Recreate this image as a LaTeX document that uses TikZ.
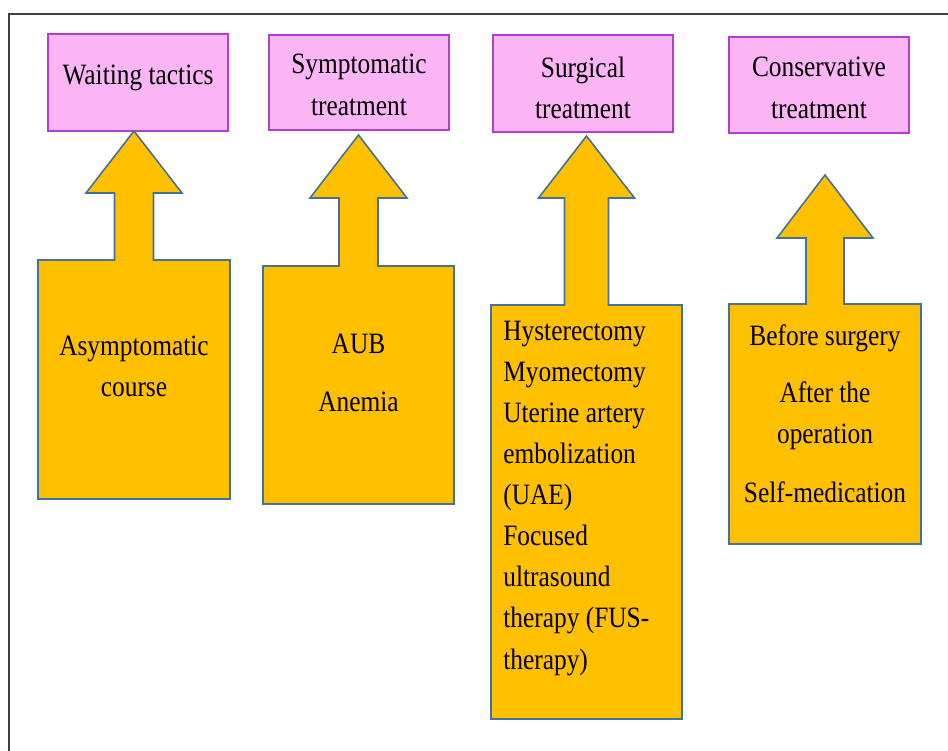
\documentclass[tikz,border=0pt]{standalone}
\usepackage{fontspec}
\setmainfont{Liberation Serif}[FakeStretch=0.86]

\definecolor{pinkfill}{HTML}{FBB5F4}
\definecolor{pinkline}{HTML}{B63CCC}
\definecolor{armfill}{HTML}{FFC000}
\definecolor{armline}{HTML}{41719C}
\definecolor{frameline}{HTML}{404040}

\tikzset{
    headbox/.style={draw=pinkline, fill=pinkfill, line width=0.9pt},
    armshape/.style={draw=armline, fill=armfill, line width=0.9pt},
    txt/.style={font=\fontsize{16.8}{23.4}\selectfont, align=center, inner sep=0pt, anchor=north}
}

\begin{document}
\begin{tikzpicture}[x=0.02cm, y=-0.02cm]

    \useasboundingbox (0,0) rectangle (948,751);
    \draw[frameline, line width=1.1pt] (948,14) -- (9,14) -- (9,751);

    % pink heading boxes
    \foreach \xa/\ya/\xb/\yb in {48/34/228/131, 269/35/449/130, 493/35/673/132, 729/37/909/133} {
        \draw[headbox] (\xa,\ya) rectangle (\xb,\yb);
    }

    % boxes with an arrow on top: centre, half width, top, bottom, half shaft, half head, head base, tip
    \foreach \c/\w/\bt/\bb/\s/\h/\hy/\ty in {134/96/260/499/19.5/48/193/131, 358.5/95.5/266/504/19.5/48.5/198/135, 586.5/95.5/305/719/22/48/198/136, 825/96/304/544/19/48/238/175} {
        \draw[armshape] (\c-\w,\bb) -- (\c-\w,\bt) -- (\c-\s,\bt) -- (\c-\s,\hy) -- (\c-\h,\hy) -- (\c,\ty)
            -- (\c+\h,\hy) -- (\c+\s,\hy) -- (\c+\s,\bt) -- (\c+\w,\bt) -- (\c+\w,\bb) -- cycle;
    }

    \node[txt] (wait) at (138,65) {Waiting tactics};
    \node[txt] (sympt) at (359,54) {Symptomatic\\treatment};
    \node[txt] (surg) at (583,57) {Surgical\\treatment};
    \node[txt] (cons) at (819,57) {Conservative\\treatment};

    \node[txt] (asym) at (134,335.5) {Asymptomatic\\course};
    \node[txt] (aub) at (358.5,333.5) {AUB\\[0.34cm]Anemia};
    \node[txt, anchor=north west, align=left] (ops) at (503,320.5) {Hysterectomy\\Myomectomy\\Uterine artery\\embolization\\(UAE)\\Focused\\ultrasound\\therapy (FUS-\\therapy)};
    \node[txt] (cnsv) at (825,324) {Before surgery\\[0.32cm]After the\\operation\\[0.36cm]Self-medication};

\end{tikzpicture}
\end{document}
